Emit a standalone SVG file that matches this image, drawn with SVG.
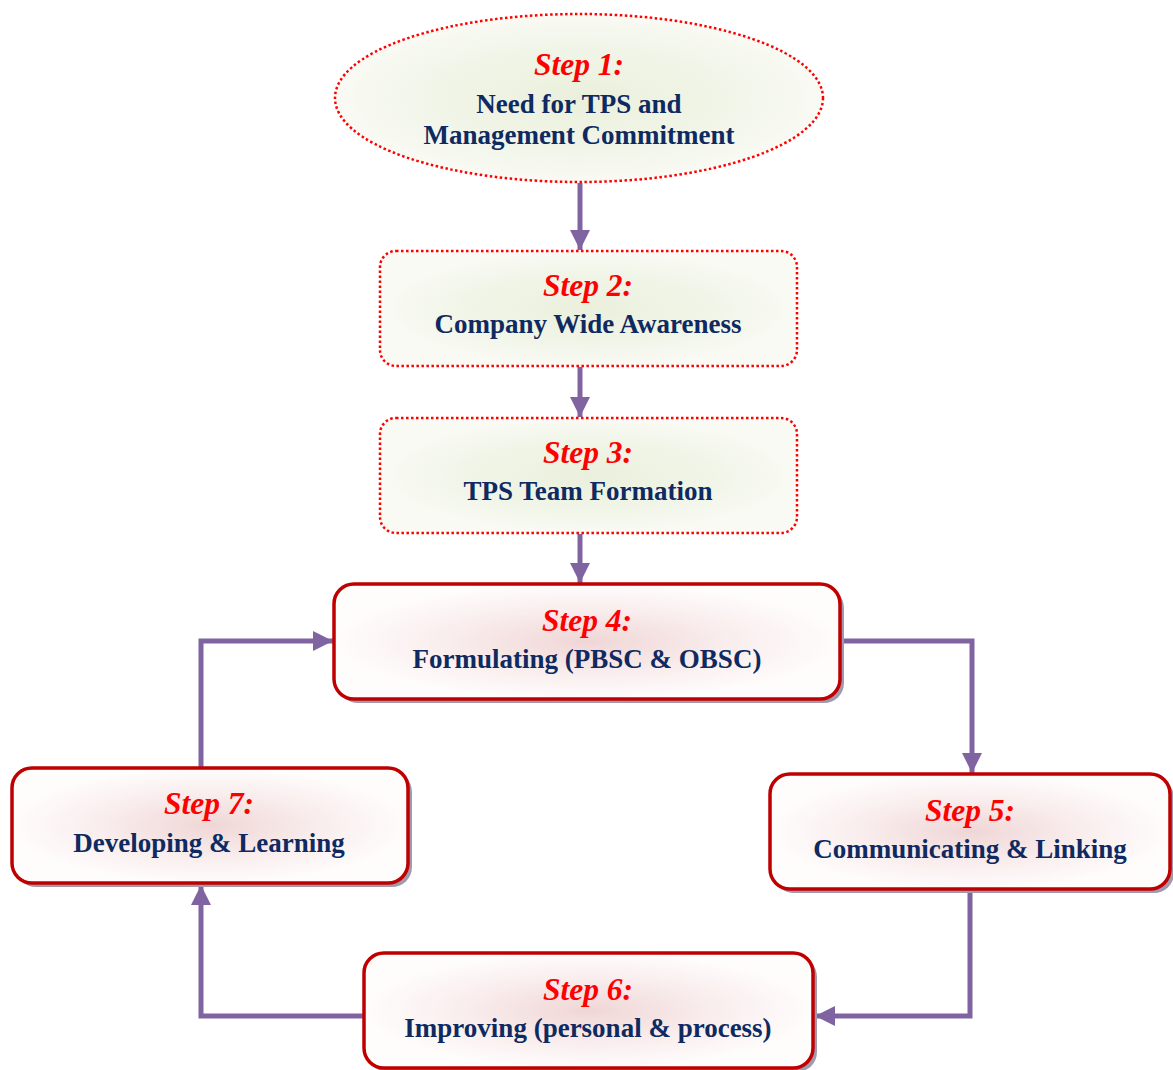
<svg xmlns="http://www.w3.org/2000/svg" width="1173" height="1070" viewBox="0 0 1173 1070">
  <style>
    .step { font-family: "Liberation Serif", "Times New Roman", serif; font-style: italic; font-weight: bold; font-size: 31.5px; fill: #FF0000; text-anchor: middle; }
    .body { font-family: "Liberation Serif", "Times New Roman", serif; font-weight: bold; font-size: 27px; fill: #0F2A60; text-anchor: middle; }
    .dotted { stroke: #FF0000; stroke-width: 2.5; stroke-dasharray: 2.5 2.5; fill: url(#greenGlow); }
    .solid { stroke: #C00000; stroke-width: 3.5; fill: url(#pinkGlow); }
    .shadow { fill: #9E9AB0; }
    .link { fill: none; stroke: #8064A2; stroke-width: 5; marker-end: url(#head); }
  </style>
  <defs>
    <radialGradient id="greenGlow" cx="50%" cy="50%" r="50%">
      <stop offset="0" stop-color="#EAF0DC"/>
      <stop offset="0.6" stop-color="#F1F5E8"/>
      <stop offset="1" stop-color="#F9FAF4"/>
    </radialGradient>
    <radialGradient id="pinkGlow" cx="50%" cy="50%" r="50%">
      <stop offset="0" stop-color="#F0D6D6"/>
      <stop offset="0.55" stop-color="#F9EDED"/>
      <stop offset="1" stop-color="#FFFCFC"/>
    </radialGradient>
    <marker id="head" viewBox="0 0 10 10" refX="10" refY="5" markerWidth="4" markerHeight="4" orient="auto" markerUnits="strokeWidth">
      <path d="M0,0 L10,5 L0,10 Z" fill="#8064A2"/>
    </marker>
  </defs>

  <!-- connectors -->
  <g id="connectors">
    <path class="link" d="M580,183 V250"/>
    <path class="link" d="M580,367 V417"/>
    <path class="link" d="M580,534 V583"/>
    <path class="link" d="M842,641 H972 V773"/>
    <path class="link" d="M970,891 V1016 H815"/>
    <path class="link" d="M364,1016 H201 V885"/>
    <path class="link" d="M201,768 V641 H333"/>
  </g>

  <g id="step1">
    <ellipse class="dotted" cx="579" cy="98" rx="244" ry="84"/>
    <text class="step" x="579" y="75">Step 1:</text>
    <text class="body" x="579" y="113">Need for TPS and</text>
    <text class="body" x="579" y="144">Management Commitment</text>
  </g>

  <g id="step2">
    <rect class="dotted" x="380" y="251" width="417" height="115" rx="16"/>
    <text class="step" x="588" y="296">Step 2:</text>
    <text class="body" x="588" y="333">Company Wide Awareness</text>
  </g>

  <g id="step3">
    <rect class="dotted" x="380" y="418" width="417" height="115" rx="16"/>
    <text class="step" x="588" y="463">Step 3:</text>
    <text class="body" x="588" y="500">TPS Team Formation</text>
  </g>

  <g id="step4">
    <rect class="shadow" x="338" y="588" width="506" height="115" rx="20"/>
    <rect class="solid" x="334" y="584" width="506" height="115" rx="20"/>
    <text class="step" x="587" y="631">Step 4:</text>
    <text class="body" x="587" y="668">Formulating (PBSC &amp; OBSC)</text>
  </g>

  <g id="step5">
    <rect class="shadow" x="774" y="778" width="400" height="115" rx="20"/>
    <rect class="solid" x="770" y="774" width="400" height="115" rx="20"/>
    <text class="step" x="970" y="821">Step 5:</text>
    <text class="body" x="970" y="858">Communicating &amp; Linking</text>
  </g>

  <g id="step6">
    <rect class="shadow" x="368" y="957" width="449" height="115" rx="20"/>
    <rect class="solid" x="364" y="953" width="449" height="115" rx="20"/>
    <text class="step" x="588" y="1000">Step 6:</text>
    <text class="body" x="588" y="1037">Improving (personal &amp; process)</text>
  </g>

  <g id="step7">
    <rect class="shadow" x="16" y="772" width="396" height="115" rx="20"/>
    <rect class="solid" x="12" y="768" width="396" height="115" rx="20"/>
    <text class="step" x="209" y="814">Step 7:</text>
    <text class="body" x="209" y="852">Developing &amp; Learning</text>
  </g>
</svg>
